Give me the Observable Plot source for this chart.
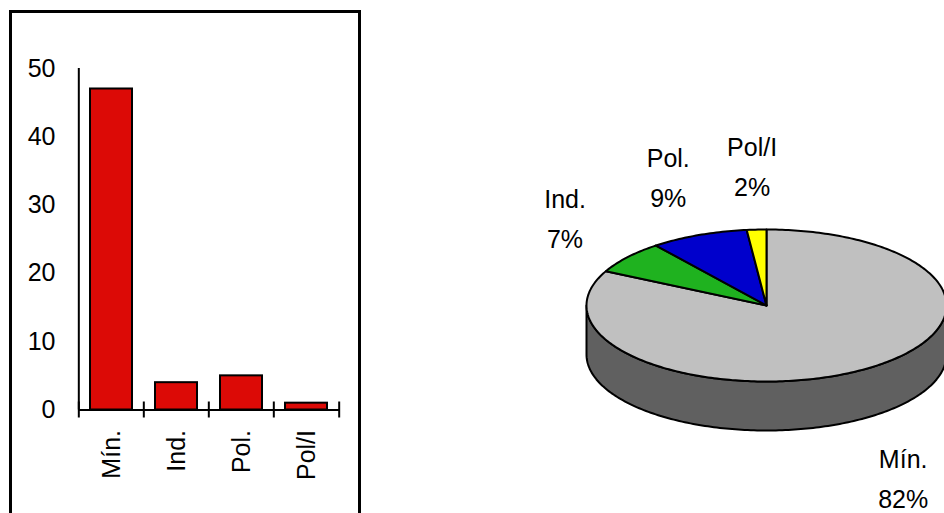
<!DOCTYPE html>
<html>
<head>
<meta charset="utf-8">
<script src="https://cdn.jsdelivr.net/npm/d3@7"></script>
<script src="https://cdn.jsdelivr.net/npm/@observablehq/plot@0.6"></script>
<style>
  html, body { margin: 0; padding: 0; background: #fff; }
  #page { position: relative; width: 944px; height: 513px; overflow: hidden; }
  #page svg { position: absolute; left: 0; top: 0; overflow: visible; }
  #frame { position: absolute; left: 9px; top: 10px; width: 346px; height: 530px;
           border: 3px solid #000; border-bottom: none; }
</style>
</head>
<body>
<div id="page"><div id="frame"></div></div>
<script>
// Counts per category
const categories = ["Mín.", "Ind.", "Pol.", "Pol/I"];
const counts = [47, 4, 5, 1];
const yTicks = [0, 10, 20, 30, 40, 50];
const barColor = "#dc0a06";
const sliceColors = ["#c0c0c0", "#1fb21f", "#0000cc", "#ffff00"];
const sideColor = "#606060";

const font = '"Liberation Sans", Arial, Helvetica, sans-serif';
const page = document.getElementById("page");

// ---- Bar chart ----
const barW = 360, barH = 513;
const mL = 78, mR = 20.5, mT = 68, mB = 103.5;
const step = (barW - mL - mR) / categories.length;
const bars = categories.map((c, i) => ({category: c, count: counts[i]}));
const line = {stroke: "#000", strokeWidth: 2};
// short tick crossing the x axis at each category boundary
const boundary = {...line, y1: 0, y2: 0, insetTop: -8, insetBottom: -8};

const barChart = Plot.plot({
  width: barW, height: barH,
  marginLeft: mL, marginRight: mR, marginTop: mT, marginBottom: mB,
  style: {fontFamily: font, fontSize: "25px", color: "#000", background: "transparent"},
  x: {domain: categories, paddingInner: 0.36, paddingOuter: 0.18, axis: null},
  y: {domain: [0, 50], axis: null},
  marks: [
    Plot.barY(bars, {x: "category", y: "count", fill: barColor, ...line}),
    // value axis line and its crossing ticks
    Plot.ruleX([categories[0]], {...line, dx: -step / 2, y1: 0, y2: 50}),
    Plot.ruleY(yTicks, {...line, x1: categories[0], x2: categories[0], dx: -step / 2,
                        insetLeft: -8, insetRight: -8}),
    // category axis line and boundary ticks
    Plot.ruleY([0], line),
    Plot.ruleX(categories, {...boundary, dx: -step / 2}),
    Plot.ruleX(categories.slice(-1), {...boundary, dx: step / 2}),
    Plot.axisY({ticks: yTicks, tickSize: 0, tickPadding: 23, label: null, fill: "#000"}),
    Plot.axisX({tickSize: 0, tickPadding: 20, tickRotate: -90, label: null, fill: "#000"})
  ]
});
page.appendChild(barChart);

// ---- 3D pie ----
const cx = 766, cy = 305, rx = 180, ry = 76;
const depth = 49 / ry;           // side height in units of the vertical radius
const total = d3.sum(counts);
const deg = Math.PI / 180;

let acc = 0;
const slices = categories.map((c, i) => {
  const a0 = acc / total * 2 * Math.PI;
  acc += counts[i];
  const a1 = acc / total * 2 * Math.PI;
  return {label: c, count: counts[i], pct: Math.round(counts[i] / total * 100),
          a0, a1, mid: (a0 + a1) / 2, color: sliceColors[i]};
});

// Angles run clockwise from 12 o'clock: x = sin(a), y = cos(a)
function arc(a0, a1, dy = 0) {
  const n = Math.max(2, Math.ceil(Math.abs(a1 - a0) / deg));
  return d3.range(n + 1).map(k => {
    const a = a0 + (a1 - a0) * k / n;
    return {x: Math.sin(a), y: Math.cos(a) + dy};
  });
}

const slicePoints = slices.flatMap((s, i) =>
  [{x: 0, y: 0}, ...arc(s.a0, s.a1), {x: 0, y: 0}].map(p => ({...p, slice: i, color: s.color}))
);
// front wall of the pie: upper rim from 3 to 9 o'clock, lower rim back again
const sidePoints = [...arc(Math.PI / 2, 3 * Math.PI / 2), ...arc(3 * Math.PI / 2, Math.PI / 2, -depth)];
sidePoints.push(sidePoints[0]);

const pie = Plot.plot({
  width: 944, height: 513,
  margin: 0,
  style: {fontFamily: font, fontSize: "25px", color: "#000", background: "transparent"},
  x: {domain: [-1, 1], range: [cx - rx, cx + rx], axis: null},
  y: {domain: [-1, 1], range: [cy + ry, cy - ry], axis: null},
  color: {type: "identity"},
  marks: [
    Plot.line(sidePoints, {x: "x", y: "y", fill: sideColor, ...line, strokeLinejoin: "round"}),
    Plot.line(slicePoints, {x: "x", y: "y", z: "slice", fill: "color", ...line, strokeLinejoin: "round"}),
    Plot.text(slices, {
      x: d => Math.sin(d.mid) * 1.45,
      y: d => Math.cos(d.mid) * 1.87 - (Math.cos(d.mid) < 0 ? depth : 0),
      text: d => `${d.label}\n${d.pct}%`,
      lineHeight: 1.6, fontSize: 25, fill: "#000"
    })
  ]
});
page.appendChild(pie);
</script>
</body>
</html>
